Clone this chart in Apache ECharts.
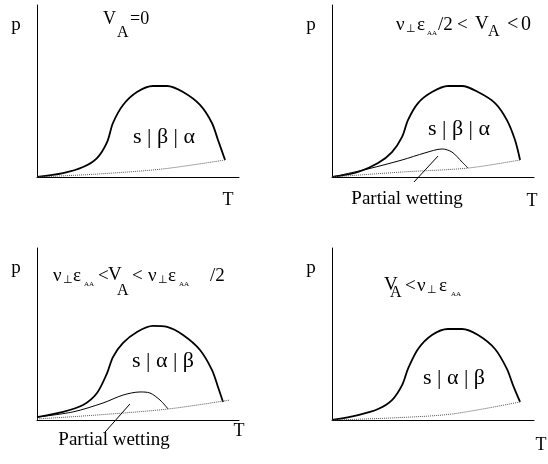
<!DOCTYPE html>
<html><head><meta charset="utf-8">
<script src="https://cdn.jsdelivr.net/npm/echarts@6/dist/echarts.min.js"></script>
<style>html,body{margin:0;padding:0;background:#fff}#c{width:548px;height:464px}</style>
</head><body><div id="c"></div><script>
// Schematic p–T phase diagrams for four surface-potential regimes.
// Coordinates are in arbitrary units: T and p both run 0..100 on each panel.

// Panel 1: V_A = 0
const domeA = [[0,0],[12.9,2.3],[22.8,5.8],[29.7,11.0],[34.7,20.3],[37.6,31.4],[42.6,41.9],[49.5,49.4],[57.4,52.9],[64.4,52.9],[72.3,49.4],[80.7,41.9],[86.6,31.4],[89.6,21.5],[93.1,9.9]];
const dotA  = [[0,0],[29.7,1.7],[62.4,4.7],[93.1,9.9]];

// Panel 2: ν⊥ε_AA/2 < V_A < 0
const domeB = [[0,0],[12.9,2.9],[22.8,8.1],[29.7,14.5],[34.7,23.3],[37.6,33.1],[42.6,43.0],[49.5,49.4],[57.4,52.9],[64.4,52.9],[72.3,49.4],[80.7,43.0],[86.6,33.1],[90.6,21.5],[93.1,9.9]];
const wetB  = [[0,0],[17.8,4.7],[34.7,9.9],[46.0,14.0],[54.5,16.3],[59.4,14.5],[64.4,8.7],[67.3,5.2]];
const dotB  = [[0,0],[34.7,2.9],[67.3,5.2],[93.1,9.9]];
const ptrB  = [[40.6,-2.9],[52.5,12.2]];

// Panel 3: ν⊥ε_AA < V_A < ν⊥ε_AA/2
const domeC = [[0,1.7],[12.9,4.7],[22.8,8.7],[29.7,15.7],[34.7,27.3],[37.6,36.6],[42.6,44.8],[49.5,51.2],[57.4,54.7],[64.4,54.1],[72.3,49.4],[80.7,40.7],[86.6,29.1],[89.6,19.2],[92.1,10.5]];
const wetC  = [[0,1.7],[17.8,4.7],[32.7,9.9],[42.6,14.5],[51.0,16.3],[55.9,15.7],[60.9,11.6],[64.9,6.4]];
const dotC  = [[0,0.6],[29.7,2.9],[64.9,6.4],[95.5,11.6]];
const ptrC  = [[33.7,-7.0],[46.0,9.3]];

// Panel 4: V_A < ν⊥ε_AA
const domeD = [[0,0],[12.9,2.9],[22.8,6.4],[29.7,11.6],[34.7,20.3],[37.6,29.7],[42.6,41.3],[49.5,49.4],[57.4,52.9],[64.4,52.9],[72.3,49.4],[80.7,41.3],[86.6,29.7],[89.6,20.3],[93.1,10.5]];
const dotD  = [[0,0],[29.7,1.2],[59.4,3.5],[93.1,10.5]];

const SERIF = '"Liberation Serif", "Times New Roman", serif';

const grids = [
  {left: 37,  top: 5,   width: 202, height: 172},
  {left: 332, top: 5,   width: 202, height: 172},
  {left: 37,  top: 248, width: 202, height: 172},
  {left: 332, top: 248, width: 202, height: 172}
];

function axis(i) {
  return {
    gridIndex: i, type: 'value', min: 0, max: 100,
    axisLine: {show: true, lineStyle: {color: '#000', width: 1}},
    axisTick: {show: false}, axisLabel: {show: false}, splitLine: {show: false}
  };
}

function curve(i, data, kind) {
  const styles = {
    dome: {color: '#000', width: 1.8, type: 'solid'},
    thin: {color: '#000', width: 1, type: 'solid'},
    dot:  {color: '#555', width: 1, type: 'dotted'}
  };
  return {
    type: 'line', xAxisIndex: i, yAxisIndex: i, data: data,
    smooth: kind === 'ptr' ? false : 0.3, showSymbol: false, symbol: 'none',
    clip: false, silent: true, animation: false,
    lineStyle: kind === 'ptr' ? styles.thin : styles[kind]
  };
}

function t(x, y, text, size, align) {
  return {
    type: 'text', silent: true,
    style: {
      x: x, y: y, text: text, fill: '#000',
      font: size + 'px ' + SERIF,
      textAlign: align || 'left', align: align || 'left',
      textVerticalAlign: 'middle', verticalAlign: 'middle'
    }
  };
}

const labels = [
  // axis letters
  t(16, 25, 'p', 19, 'center'), t(228, 200, 'T', 18, 'center'),
  t(311, 25, 'p', 19, 'center'), t(532, 201, 'T', 18, 'center'),
  t(16, 268, 'p', 19, 'center'), t(239, 431, 'T', 18, 'center'),
  t(311, 268, 'p', 19, 'center'), t(541, 445, 'T', 18, 'center'),

  // panel 1 heading: V_A=0
  t(103, 19, 'V', 18), t(117, 33, 'A', 16), t(130, 19, '=0', 18),

  // panel 2 heading: ν⊥ ε_AA /2 < V_A<0
  t(396, 25, 'ν', 19), t(406, 29, '⊥', 11), t(417, 25, 'ε', 19), t(427, 33, 'AA', 7),
  t(438, 25, '/2', 19), t(457, 25, '<', 19), t(475, 24, 'V', 19), t(488, 32, 'A', 16),
  t(507, 25, '<', 20), t(521, 25, '0', 20),

  // panel 3 heading: ν⊥ ε_AA <V_A< ν⊥ ε_AA /2
  t(53, 276, 'ν', 19), t(63, 280, '⊥', 11), t(73, 276, 'ε', 19), t(84, 284, 'AA', 7),
  t(98, 276, '<', 19), t(108, 275, 'V', 19), t(117, 291, 'A', 16), t(132, 276, '<', 19),
  t(148, 276, 'ν', 19), t(158, 280, '⊥', 11), t(168, 276, 'ε', 19), t(179, 284, 'AA', 7),
  t(210, 276, '/2', 19),

  // panel 4 heading: V_A < ν⊥ ε_AA
  t(384, 285, 'V', 19), t(390, 293, 'A', 16), t(405, 286, '<', 19),
  t(417, 286, 'ν', 19), t(427, 290, '⊥', 11), t(439, 286, 'ε', 19), t(451, 294, 'AA', 7),

  // phase sequence labels
  t(164, 137, 's | β | α', 22, 'center'),
  t(459, 129, 's | β | α', 22, 'center'),
  t(163, 361, 's | α | β', 22, 'center'),
  t(454, 378, 's | α | β', 22, 'center'),

  // partial wetting captions
  t(407, 199, 'Partial wetting', 19, 'center'),
  t(114, 440, 'Partial wetting', 19, 'center')
];

const chart = echarts.init(document.getElementById('c'), null, {renderer: 'canvas'});
chart.setOption({
  animation: false,
  backgroundColor: '#fff',
  grid: grids,
  xAxis: [0, 1, 2, 3].map(axis),
  yAxis: [0, 1, 2, 3].map(axis),
  series: [
    curve(0, domeA, 'dome'), curve(0, dotA, 'dot'),
    curve(1, domeB, 'dome'), curve(1, wetB, 'thin'), curve(1, dotB, 'dot'), curve(1, ptrB, 'ptr'),
    curve(2, domeC, 'dome'), curve(2, wetC, 'thin'), curve(2, dotC, 'dot'), curve(2, ptrC, 'ptr'),
    curve(3, domeD, 'dome'), curve(3, dotD, 'dot')
  ],
  graphic: labels
});
</script></body></html>
